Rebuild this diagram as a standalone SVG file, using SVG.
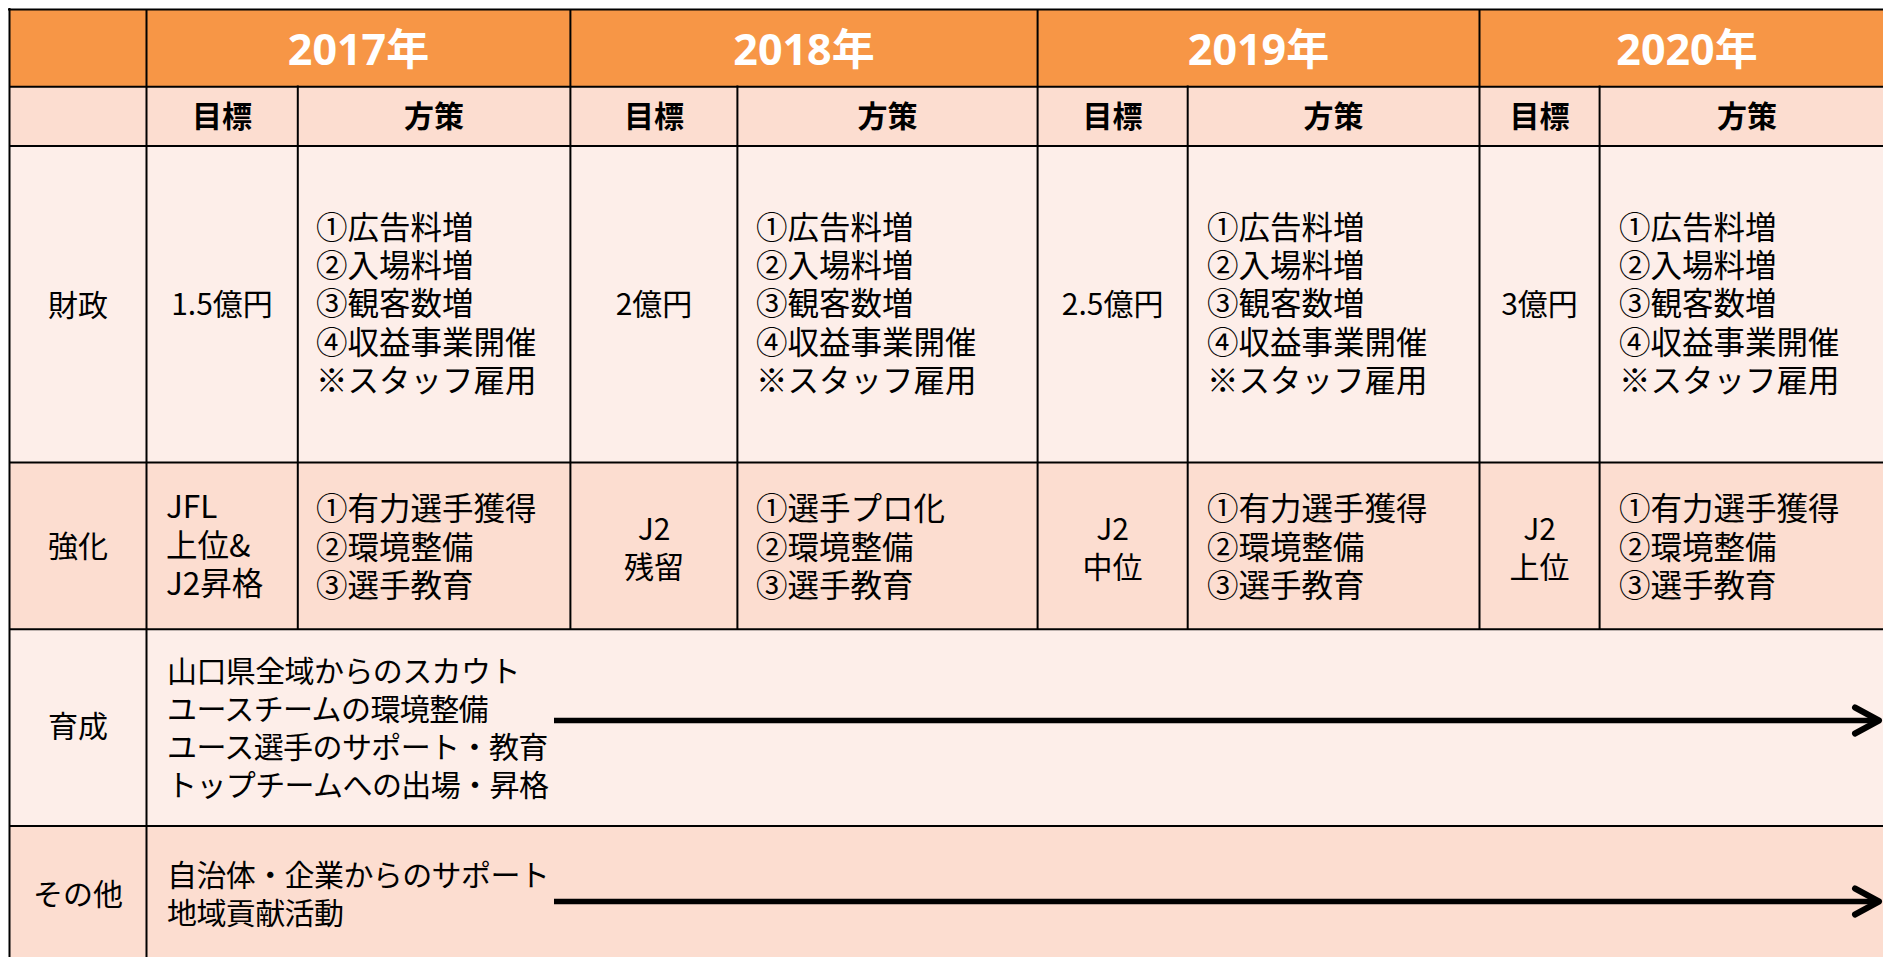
<svg xmlns="http://www.w3.org/2000/svg" width="1883" height="957" viewBox="0 0 1883 957">
<style>
  .t { font-family: "Noto Sans CJK JP", "Noto Sans", sans-serif; fill: #000; }
  .body { font-size: 31.5px; }
  .wide { font-size: 30px; letter-spacing: -0.6px; }
  .lab { font-size: 30px; text-anchor: middle; }
  .sub { font-size: 30px; font-weight: bold; text-anchor: middle; }
  .val { font-size: 30px; text-anchor: middle; }
  .yr { font-family: "Open Sans", "Noto Sans CJK JP", sans-serif; font-size: 43px; font-weight: bold; fill: #fff; text-anchor: middle; }
  .grid { stroke: #000; stroke-width: 2; fill: none; }
  .conn { stroke: #000; stroke-width: 5.5; fill: none; }
</style>
<defs>
  <marker id="arr" markerUnits="userSpaceOnUse" markerWidth="40" markerHeight="40" refX="26" refY="16" orient="auto" overflow="visible">
    <path d="M2,3 L26,16 L2,29" fill="none" stroke="#000" stroke-width="6" stroke-linecap="round" stroke-linejoin="round"/>
  </marker>
</defs>
<rect x="0" y="0" width="1883" height="957" fill="#fff"/>
<g id="bands">
  <rect x="9.5" y="9.6" width="1874" height="77.2" fill="#F79646"/>
  <rect x="9.5" y="86.8" width="1874" height="59.2" fill="#FCDDD0"/>
  <rect x="9.5" y="146" width="1874" height="316.5" fill="#FDEEE9"/>
  <rect x="9.5" y="462.5" width="1874" height="166.8" fill="#FCDDD0"/>
  <rect x="9.5" y="629.3" width="1874" height="196.7" fill="#FDEEE9"/>
  <rect x="9.5" y="826" width="1874" height="131" fill="#FCDDD0"/>
</g>
<g id="gridlines">
  <line class="grid" x1="8" y1="9.6" x2="1883" y2="9.6" stroke-width="3.5"/>
  <line class="grid" x1="9.5" y1="8" x2="9.5" y2="957" stroke-width="2.5"/>
  <line class="grid" x1="9.5" y1="86.8" x2="1883" y2="86.8"/>
  <line class="grid" x1="9.5" y1="146" x2="1883" y2="146"/>
  <line class="grid" x1="9.5" y1="462.5" x2="1883" y2="462.5"/>
  <line class="grid" x1="9.5" y1="629.3" x2="1883" y2="629.3"/>
  <line class="grid" x1="9.5" y1="826" x2="1883" y2="826"/>
  <line class="grid" x1="146.5" y1="9.6" x2="146.5" y2="957"/>
  <line class="grid" x1="570.4" y1="9.6" x2="570.4" y2="629.3"/>
  <line class="grid" x1="1037.6" y1="9.6" x2="1037.6" y2="629.3"/>
  <line class="grid" x1="1479.5" y1="9.6" x2="1479.5" y2="629.3"/>
  <line class="grid" x1="297.8" y1="85.5" x2="297.8" y2="629.3"/>
  <line class="grid" x1="737.4" y1="85.5" x2="737.4" y2="629.3"/>
  <line class="grid" x1="1187.7" y1="85.5" x2="1187.7" y2="629.3"/>
  <line class="grid" x1="1599.6" y1="85.5" x2="1599.6" y2="629.3"/>
</g>
<g id="header-years">
  <text class="yr" x="358.5" y="65">2017年</text>
  <text class="yr" x="804" y="65">2018年</text>
  <text class="yr" x="1258.5" y="65">2019年</text>
  <text class="yr" x="1687" y="65">2020年</text>
</g>
<g id="header-sub">
  <text class="t sub" x="222" y="127">目標</text>
  <text class="t sub" x="434" y="127">方策</text>
  <text class="t sub" x="654" y="127">目標</text>
  <text class="t sub" x="887.5" y="127">方策</text>
  <text class="t sub" x="1112.6" y="127">目標</text>
  <text class="t sub" x="1333.6" y="127">方策</text>
  <text class="t sub" x="1539.5" y="127">目標</text>
  <text class="t sub" x="1747" y="127">方策</text>
</g>
<g id="row-zaisei">
  <text class="t lab" x="78" y="316">財政</text>
  <text class="t val" x="222" y="315">1.5億円</text>
  <text class="t val" x="654" y="315">2億円</text>
  <text class="t val" x="1112.6" y="315">2.5億円</text>
  <text class="t val" x="1539.5" y="315">3億円</text>
  <text class="t body" x="316">
    <tspan x="316" y="238.5">①広告料増</tspan><tspan x="316" y="277">②入場料増</tspan><tspan x="316" y="315.3">③観客数増</tspan><tspan x="316" y="353.7">④収益事業開催</tspan><tspan x="316" y="392">※スタッフ雇用</tspan>
  </text>
  <text class="t body" x="756">
    <tspan x="756" y="238.5">①広告料増</tspan><tspan x="756" y="277">②入場料増</tspan><tspan x="756" y="315.3">③観客数増</tspan><tspan x="756" y="353.7">④収益事業開催</tspan><tspan x="756" y="392">※スタッフ雇用</tspan>
  </text>
  <text class="t body" x="1207">
    <tspan x="1207" y="238.5">①広告料増</tspan><tspan x="1207" y="277">②入場料増</tspan><tspan x="1207" y="315.3">③観客数増</tspan><tspan x="1207" y="353.7">④収益事業開催</tspan><tspan x="1207" y="392">※スタッフ雇用</tspan>
  </text>
  <text class="t body" x="1619">
    <tspan x="1619" y="238.5">①広告料増</tspan><tspan x="1619" y="277">②入場料増</tspan><tspan x="1619" y="315.3">③観客数増</tspan><tspan x="1619" y="353.7">④収益事業開催</tspan><tspan x="1619" y="392">※スタッフ雇用</tspan>
  </text>
</g>
<g id="row-kyouka">
  <text class="t lab" x="78" y="557">強化</text>
  <text class="t body" x="166">
    <tspan x="166" y="518">JFL</tspan><tspan x="166" y="556.5">上位&amp;</tspan><tspan x="166" y="595">J2昇格</tspan>
  </text>
  <text class="t val" x="654"><tspan x="654" y="540">J2</tspan><tspan x="654" y="578">残留</tspan></text>
  <text class="t val" x="1112.6"><tspan x="1112.6" y="540">J2</tspan><tspan x="1112.6" y="578">中位</tspan></text>
  <text class="t val" x="1539.5"><tspan x="1539.5" y="540">J2</tspan><tspan x="1539.5" y="578">上位</tspan></text>
  <text class="t body" x="316">
    <tspan x="316" y="520">①有力選手獲得</tspan><tspan x="316" y="558.5">②環境整備</tspan><tspan x="316" y="597">③選手教育</tspan>
  </text>
  <text class="t body" x="756">
    <tspan x="756" y="520">①選手プロ化</tspan><tspan x="756" y="558.5">②環境整備</tspan><tspan x="756" y="597">③選手教育</tspan>
  </text>
  <text class="t body" x="1207">
    <tspan x="1207" y="520">①有力選手獲得</tspan><tspan x="1207" y="558.5">②環境整備</tspan><tspan x="1207" y="597">③選手教育</tspan>
  </text>
  <text class="t body" x="1619">
    <tspan x="1619" y="520">①有力選手獲得</tspan><tspan x="1619" y="558.5">②環境整備</tspan><tspan x="1619" y="597">③選手教育</tspan>
  </text>
</g>
<g id="row-ikusei">
  <text class="t lab" x="78" y="737">育成</text>
  <text class="t wide" x="167">
    <tspan x="167" y="682">山口県全域からのスカウト</tspan><tspan x="167" y="720">ユースチームの環境整備</tspan><tspan x="167" y="758">ユース選手のサポート・教育</tspan><tspan x="167" y="796">トップチームへの出場・昇格</tspan>
  </text>
</g>
<g id="row-sonota">
  <text class="t lab" x="78" y="905">その他</text>
  <text class="t wide" x="167">
    <tspan x="167" y="885.5">自治体・企業からのサポート</tspan><tspan x="167" y="923.5">地域貢献活動</tspan>
  </text>
</g>
<g id="connectors">
  <path class="conn" d="M554,720.5 H1879" marker-end="url(#arr)"/>
  <path class="conn" d="M554,901.5 H1879" marker-end="url(#arr)"/>
</g>
</svg>
